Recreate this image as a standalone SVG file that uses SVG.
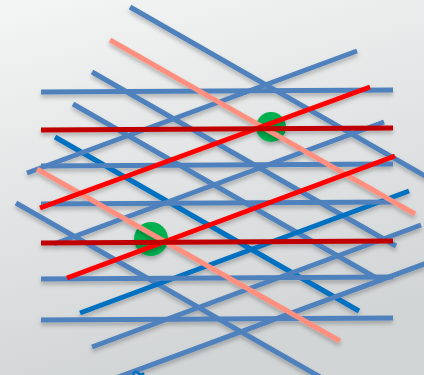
<svg xmlns="http://www.w3.org/2000/svg" width="424" height="375" viewBox="0 0 424 375">
<defs>
<linearGradient id="bg" x1="0" y1="0" x2="0.3" y2="1">
<stop offset="0" stop-color="#f4f5f5"/>
<stop offset="1" stop-color="#d2d5d6"/>
</linearGradient>
<filter id="sh" x="-10%" y="-20%" width="120%" height="160%">
<feDropShadow dx="0" dy="3" stdDeviation="2" flood-color="#000" flood-opacity="0.25"/>
</filter>
</defs>
<style>
line{stroke-width:5;fill:none}
.b{stroke:#4f81bd}
.db{stroke:#0070c0}
.r{stroke:#ff0000}
.dr{stroke:#c00000}
.s{stroke:#ff8f7f}
.g{fill:#00b050}
</style>
<rect width="424" height="375" fill="url(#bg)"/>
<g id="dots" filter="url(#sh)">
<circle class="g" cx="271" cy="127" r="15"/>
<circle class="g" cx="151" cy="239" r="17"/>
</g>
<g id="lines" filter="url(#sh)">
<g id="diag-down">
<line class="b" x1="130" y1="7" x2="434" y2="181"/>
<line class="b" x1="92" y1="72" x2="396" y2="246"/>
<line class="b" x1="73" y1="104" x2="378" y2="279"/>
<line class="b" x1="16" y1="203" x2="320" y2="377"/>
<line class="db" x1="55" y1="137" x2="359" y2="311"/>
</g>
<g id="diag-up">
<line class="b" x1="27" y1="173" x2="357" y2="51"/>
<line class="b" x1="54" y1="244" x2="384" y2="122"/>
<line class="b" x1="92" y1="347" x2="421" y2="225"/>
<line class="b" x1="105" y1="382" x2="435" y2="260"/>
<line class="db" x1="80" y1="313" x2="409" y2="191"/>
</g>
<g id="horizontal">
<line class="b" x1="41" y1="92" x2="393" y2="90"/>
<line class="b" x1="41" y1="166" x2="393" y2="164"/>
<line class="b" x1="41" y1="204" x2="393" y2="202"/>
<line class="b" x1="41" y1="279" x2="393" y2="277"/>
<line class="b" x1="41" y1="320" x2="393" y2="318"/>
</g>
<g id="accent">
<line class="s" x1="110" y1="40" x2="415" y2="214"/>
<line class="s" x1="37" y1="169" x2="340" y2="341"/>
<line class="r" x1="40" y1="208" x2="370" y2="87"/>
<line class="r" x1="67" y1="278" x2="395" y2="156"/>
<line class="dr" x1="41" y1="130" x2="393" y2="128"/>
<line class="dr" x1="41" y1="243" x2="393" y2="241"/>
</g>
</g>
<path d="M133 375 q2-5 5-2 q3 3 6 0" fill="none" stroke="#0070c0" stroke-width="2.5"/>
</svg>
